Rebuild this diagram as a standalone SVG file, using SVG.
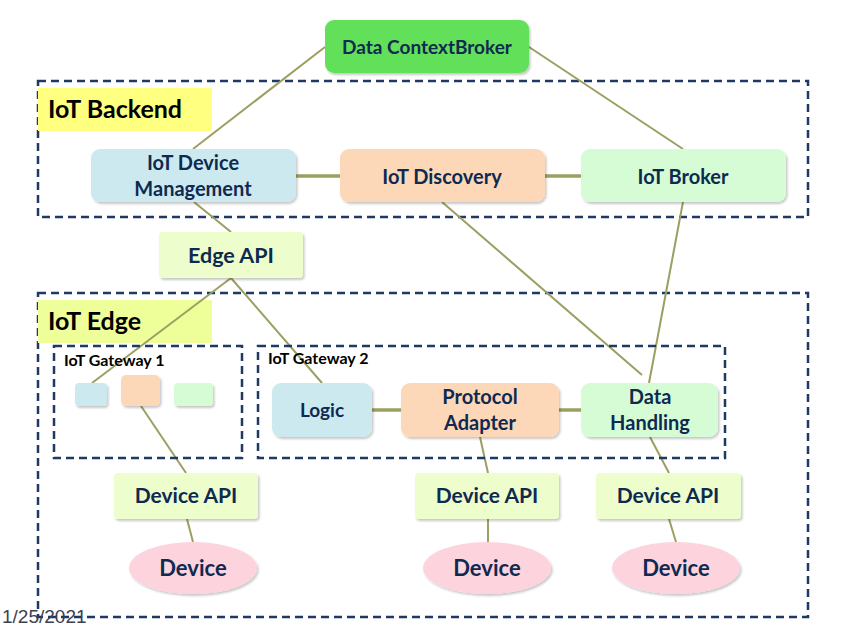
<svg xmlns="http://www.w3.org/2000/svg" width="857" height="637" viewBox="0 0 857 637">
<defs>
<filter id="sh" x="-10%" y="-10%" width="125%" height="135%">
<feDropShadow dx="1.5" dy="2" stdDeviation="1.2" flood-color="#000" flood-opacity="0.22"/>
</filter>
<style>
.t{font-family:Lato,"Liberation Sans",sans-serif;font-weight:bold;fill:#0f2a50;text-anchor:middle}
.lbl{font-family:Lato,"Liberation Sans",sans-serif;font-weight:bold;fill:#000}
.box{fill:none;stroke:#1f3864;stroke-width:2.5;stroke-dasharray:8 5}
.c{stroke:#9c9f62;stroke-width:2;fill:none}
.ch{stroke:#9c9f62;stroke-width:3.5;fill:none}
.blue{fill:#cde9f0}
.orange{fill:#fdd8b8}
.green{fill:#d6fcd6}
.api{fill:#eefdcc}
.dev{fill:#fdd3dd}
</style>
</defs>
<rect width="857" height="637" fill="#fff"/>

<g id="iot-backend">
<rect class="box" x="38" y="81" width="770" height="136"/>
<rect x="38" y="88" width="174" height="43" fill="#ffff80"/>
<text class="lbl" x="48" y="118" font-size="25">IoT Backend</text>
</g>

<g id="iot-edge">
<rect class="box" x="38" y="293" width="770" height="324"/>
<rect x="38" y="300" width="174" height="43" fill="#eeff99"/>
<text class="lbl" x="48" y="330" font-size="25">IoT Edge</text>
</g>

<g id="connectors">
<line class="c" x1="325" y1="47" x2="193" y2="149"/>
<line class="c" x1="529" y1="47" x2="683" y2="149"/>
<line class="ch" x1="296" y1="176" x2="340" y2="176"/>
<line class="ch" x1="545" y1="176" x2="581" y2="176"/>
<line class="c" x1="194" y1="202" x2="231" y2="232"/>
<line class="c" x1="231" y1="278" x2="92" y2="383"/>
<line class="c" x1="231" y1="278" x2="322" y2="383"/>
<line class="c" x1="442" y1="202" x2="642" y2="375"/>
<line class="c" x1="683" y1="202" x2="649" y2="383"/>
<line class="ch" x1="372" y1="410" x2="401" y2="410"/>
<line class="ch" x1="559" y1="410" x2="581" y2="410"/>
<line class="c" x1="141" y1="406" x2="186" y2="473"/>
<line class="c" x1="187" y1="519" x2="193" y2="542"/>
<line class="c" x1="480" y1="437" x2="488" y2="473"/>
<line class="c" x1="488" y1="519" x2="488" y2="542"/>
<line class="c" x1="650" y1="437" x2="669" y2="473"/>
<line class="c" x1="669" y1="519" x2="676" y2="542"/>
</g>

<g id="data-contextbroker">
<rect x="325" y="20" width="204" height="53" rx="9" fill="#62e05a" filter="url(#sh)"/>
<text class="t" x="427" y="54" font-size="19">Data ContextBroker</text>
</g>

<g id="iot-device-management">
<rect class="blue" x="91" y="149" width="205" height="53" rx="9" filter="url(#sh)"/>
<text class="t" x="193" y="170" font-size="20">IoT Device</text>
<text class="t" x="193" y="196" font-size="20">Management</text>
</g>

<g id="iot-discovery">
<rect class="orange" x="340" y="149" width="205" height="53" rx="9" filter="url(#sh)"/>
<text class="t" x="442" y="184" font-size="20">IoT Discovery</text>
</g>

<g id="iot-broker">
<rect class="green" x="581" y="149" width="205" height="53" rx="9" filter="url(#sh)"/>
<text class="t" x="683" y="184" font-size="20">IoT Broker</text>
</g>

<g id="edge-api">
<rect class="api" x="159" y="232" width="144" height="46" rx="4" filter="url(#sh)"/>
<text class="t" x="231" y="263" font-size="21.5">Edge API</text>
</g>

<g id="iot-gateway-1">
<rect class="box" x="54" y="346" width="188" height="112"/>
<text class="lbl" x="64" y="366" font-size="16">IoT Gateway 1</text>
<rect class="blue" x="75" y="383" width="32" height="23" rx="4" filter="url(#sh)"/>
<rect class="orange" x="121" y="375" width="39" height="31" rx="5" filter="url(#sh)"/>
<rect class="green" x="174" y="383" width="39" height="23" rx="4" filter="url(#sh)"/>
</g>

<g id="iot-gateway-2">
<rect class="box" x="258" y="346" width="467" height="112"/>
<text class="lbl" x="268" y="364" font-size="16">IoT Gateway 2</text>
</g>

<g id="logic">
<rect class="blue" x="272" y="383" width="100" height="54" rx="9" filter="url(#sh)"/>
<text class="t" x="322" y="417" font-size="19">Logic</text>
</g>

<g id="protocol-adapter">
<rect class="orange" x="401" y="383" width="158" height="54" rx="9" filter="url(#sh)"/>
<text class="t" x="480" y="404" font-size="20">Protocol</text>
<text class="t" x="480" y="430" font-size="20">Adapter</text>
</g>

<g id="data-handling">
<rect class="green" x="581" y="383" width="137" height="54" rx="9" filter="url(#sh)"/>
<text class="t" x="650" y="404" font-size="20">Data</text>
<text class="t" x="650" y="430" font-size="20">Handling</text>
</g>

<g id="device-api-1">
<rect class="api" x="114" y="473" width="144" height="46" rx="4" filter="url(#sh)"/>
<text class="t" x="186" y="503" font-size="21">Device API</text>
</g>
<g id="device-api-2">
<rect class="api" x="415" y="473" width="144" height="46" rx="4" filter="url(#sh)"/>
<text class="t" x="487" y="503" font-size="21">Device API</text>
</g>
<g id="device-api-3">
<rect class="api" x="596" y="473" width="145" height="46" rx="4" filter="url(#sh)"/>
<text class="t" x="668" y="503" font-size="21">Device API</text>
</g>

<g id="device-1">
<ellipse class="dev" cx="193" cy="568" rx="64" ry="26" filter="url(#sh)"/>
<text class="t" x="193" y="576" font-size="22">Device</text>
</g>
<g id="device-2">
<ellipse class="dev" cx="487" cy="568" rx="64" ry="26" filter="url(#sh)"/>
<text class="t" x="487" y="576" font-size="22">Device</text>
</g>
<g id="device-3">
<ellipse class="dev" cx="676" cy="568" rx="64" ry="26" filter="url(#sh)"/>
<text class="t" x="676" y="576" font-size="22">Device</text>
</g>

<text x="2" y="623" font-family="'Liberation Sans',sans-serif" font-size="19" fill="#3c4050">1/25/2021</text>
</svg>
